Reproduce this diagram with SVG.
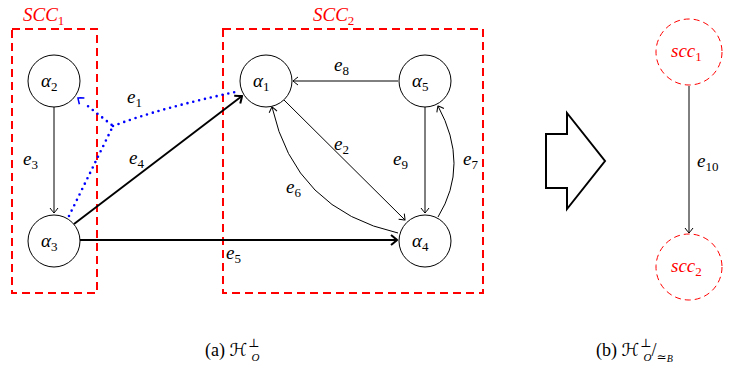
<svg xmlns="http://www.w3.org/2000/svg" width="746" height="368" viewBox="0 0 746 368">
<defs>
<style>
.node circle{fill:#fff;stroke:#000;stroke-width:1}
.lbl{font-family:'Liberation Serif','DejaVu Serif',serif;font-style:italic;font-size:19px;fill:#000}
.sub{font-size:13px;font-style:normal}
.scc{fill:none;stroke:#ff0000;stroke-width:2;stroke-dasharray:8,5}
.node circle.sccn{fill:#fff;stroke:#ff0000;stroke-width:1;stroke-dasharray:6,4}
.red{fill:#ff0000}
.thin{fill:none;stroke:#000;stroke-width:1}
.thick{fill:none;stroke:#000;stroke-width:2}
.blue{fill:none;stroke:#0000ff;stroke-width:2.6;stroke-dasharray:0,6;stroke-linecap:round}
.cap{font-family:'Liberation Serif','DejaVu Serif',serif;font-size:18px;fill:#000}
</style>
<marker id="a" markerUnits="userSpaceOnUse" markerWidth="14" markerHeight="14" refX="0" refY="0" viewBox="-8 -7 10 14" orient="auto" overflow="visible">
<path d="M-5,-4 Q-1,-1 0,0 Q-1,1 -5,4" fill="none" stroke="#000" stroke-width="1"/>
</marker>
<marker id="at" markerUnits="userSpaceOnUse" markerWidth="14" markerHeight="14" refX="0" refY="0" viewBox="-8 -7 10 14" orient="auto" overflow="visible">
<path d="M-6,-5 Q-1,-1 0,0 Q-1,1 -6,5" fill="none" stroke="#000" stroke-width="2"/>
</marker>
<marker id="ab" markerUnits="userSpaceOnUse" markerWidth="14" markerHeight="14" refX="0" refY="0" viewBox="-8 -7 10 14" orient="auto" overflow="visible">
<path d="M-5,-4 Q-1,-1 0,0 Q-1,1 -5,4" fill="none" stroke="#0000ff" stroke-width="1.6"/>
</marker>
</defs>
<rect width="746" height="368" fill="#fff"/>

<g id="scc1-box">
<rect class="scc" x="12" y="29" width="85" height="264"/>
<text class="lbl red" x="23" y="21">SCC<tspan class="sub" dy="4">1</tspan></text>
</g>
<g id="scc2-box">
<rect class="scc" x="223" y="29" width="260" height="264"/>
<text class="lbl red" x="313" y="21">SCC<tspan class="sub" dy="4">2</tspan></text>
</g>

<g id="connectors">
<path class="thin" d="M54,107 L54,213" marker-end="url(#a)"/>
<path class="thick" d="M74,224 L242,96" marker-end="url(#at)"/>
<path class="thick" d="M80,240 L397,240" marker-end="url(#at)"/>
<path class="thin" d="M398,81 L293,81" marker-end="url(#a)"/>
<path class="thin" d="M284,100 L405,220" marker-end="url(#a)"/>
<path class="thin" d="M398,233 Q295,210 272,107" marker-end="url(#a)"/>
<path class="thin" d="M425,107 L425,213" marker-end="url(#a)"/>
<path class="thin" d="M438,217 Q470,165 438,106" marker-end="url(#a)"/>
<path class="blue" d="M69,216 L113,126 L84,103"/>
<path class="blue" d="M113,126 Q160,108 240,91"/>
<path d="M83,102 L78,98" fill="none" stroke="none" marker-end="url(#ab)"/>
<path class="thin" d="M689,86 L689,233" marker-end="url(#a)"/>
<text class="lbl" x="23" y="165">e<tspan class="sub" dy="4">3</tspan></text>
<text class="lbl" x="129" y="164">e<tspan class="sub" dy="4">4</tspan></text>
<text class="lbl" x="226" y="259">e<tspan class="sub" dy="4">5</tspan></text>
<text class="lbl" x="127" y="103" fill="#0000ff">e<tspan class="sub" dy="4">1</tspan></text>
<text class="lbl" x="334" y="71">e<tspan class="sub" dy="4">8</tspan></text>
<text class="lbl" x="334" y="150">e<tspan class="sub" dy="4">2</tspan></text>
<text class="lbl" x="286" y="193">e<tspan class="sub" dy="4">6</tspan></text>
<text class="lbl" x="393" y="165">e<tspan class="sub" dy="4">9</tspan></text>
<text class="lbl" x="463" y="165">e<tspan class="sub" dy="4">7</tspan></text>
<text class="lbl" x="697" y="167">e<tspan class="sub" dy="4">10</tspan></text>
</g>

<g id="alpha2" class="node"><circle cx="54" cy="81" r="26"/><text class="lbl" x="41" y="87">α<tspan class="sub" dy="4">2</tspan></text></g>
<g id="alpha3" class="node"><circle cx="54" cy="241" r="26"/><text class="lbl" x="41" y="247">α<tspan class="sub" dy="4">3</tspan></text></g>
<g id="alpha1" class="node"><circle cx="266" cy="81" r="26"/><text class="lbl" x="253" y="87">α<tspan class="sub" dy="4">1</tspan></text></g>
<g id="alpha5" class="node"><circle cx="425" cy="81" r="26"/><text class="lbl" x="412" y="87">α<tspan class="sub" dy="4">5</tspan></text></g>
<g id="alpha4" class="node"><circle cx="425" cy="241" r="26"/><text class="lbl" x="412" y="247">α<tspan class="sub" dy="4">4</tspan></text></g>

<g id="big-arrow"><path d="M546,134 L567,134 L567,113 L605,161 L567,209 L567,188 L546,188 Z" fill="#fff" stroke="#000" stroke-width="2" stroke-linejoin="miter"/></g>

<g id="scc1" class="node"><circle class="sccn" cx="689" cy="52" r="33"/><text class="lbl red" x="671" y="57">scc<tspan class="sub" dy="4">1</tspan></text></g>
<g id="scc2" class="node"><circle class="sccn" cx="689" cy="267" r="33"/><text class="lbl red" x="671" y="272">scc<tspan class="sub" dy="4">2</tspan></text></g>

<g id="captions">
<text class="cap" x="205" y="356">(a) <tspan font-family="'DejaVu Sans',serif">ℋ</tspan><tspan font-size="12" dy="-9" dx="1">⊥</tspan><tspan font-size="11" font-style="italic" dx="-8" dy="14">O</tspan></text>
<text class="cap" x="596" y="356">(b) <tspan font-family="'DejaVu Sans',serif">ℋ</tspan><tspan font-size="12" dy="-9" dx="1">⊥</tspan><tspan font-size="11" font-style="italic" dx="-8" dy="14">O</tspan><tspan dy="-5">/</tspan><tspan font-size="12" dy="5">≃</tspan><tspan font-size="10" font-style="italic" dy="1">B</tspan></text>
</g>
</svg>
